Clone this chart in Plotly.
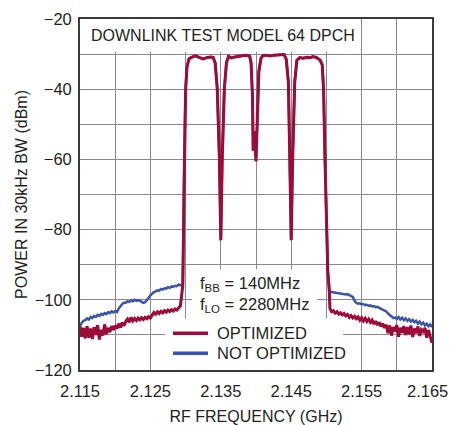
import plotly.graph_objects as go

# ---------------- data ----------------
# left skirt sweep points (GHz)
left_f = [2.11500, 2.11525, 2.11550, 2.11575, 2.11600, 2.11625, 2.11650, 2.11675, 2.11700, 2.11725,
          2.11750, 2.11775, 2.11800, 2.11825, 2.11850, 2.11875, 2.11900, 2.11925, 2.11950, 2.11975,
          2.12000, 2.12025, 2.12050, 2.12075, 2.12100, 2.12125, 2.12150, 2.12175, 2.12200, 2.12225,
          2.12250, 2.12275, 2.12300, 2.12325, 2.12350, 2.12375, 2.12400, 2.12425, 2.12450, 2.12475,
          2.12500, 2.12525, 2.12550, 2.12575, 2.12600, 2.12625, 2.12650, 2.12675, 2.12700, 2.12725,
          2.12750, 2.12775, 2.12800, 2.12825, 2.12850, 2.12875, 2.12900, 2.12925]
red_left = [-107.5, -110.5, -108.0, -111.0, -107.5, -110.8, -108.2, -111.2, -107.8, -110.0,
            -107.2, -111.3, -108.5, -110.2, -107.0, -109.8, -108.0, -109.2, -107.5, -108.6,
            -107.3, -108.2, -106.8, -107.9, -106.5, -107.4, -106.2, -105.5, -106.4, -105.0,
            -106.0, -105.3, -105.9, -105.2, -105.7, -105.1, -105.6, -105.0, -105.4, -104.8,
            -105.2, -104.3, -103.6, -104.1, -103.4, -103.9, -103.3, -103.7, -103.1, -103.5,
            -102.9, -103.3, -102.8, -103.2, -102.6, -102.9, -102.3, -101.8]
blue_left = [-107.5, -106.5, -106.0, -105.8, -105.3, -105.6, -104.9, -105.2, -104.6, -104.9,
             -104.3, -104.6, -104.0, -104.3, -103.8, -104.1, -103.5, -103.8, -103.3, -103.6,
             -103.2, -103.5, -102.5, -101.8, -101.2, -100.8, -100.9, -100.4, -100.6, -100.2,
             -100.4, -100.0, -100.3, -100.1, -100.2, -100.6, -100.9, -100.7, -100.2, -99.4,
             -98.7, -98.1, -97.8, -97.6, -97.3, -97.4, -96.9, -97.1, -96.7, -96.8,
             -96.4, -96.6, -96.2, -96.3, -96.0, -96.1, -95.7, -95.8]

# in-band part (four carriers) - identical for both traces
band_f = [2.1296, 2.1298, 2.1300, 2.1302, 2.1305, 2.1310, 2.1314, 2.1320, 2.1325, 2.1330,
          2.1335, 2.1339, 2.1342, 2.1345, 2.1348, 2.1350, 2.1352, 2.1355, 2.1358, 2.1361,
          2.1365, 2.1370, 2.1375, 2.1380, 2.1384, 2.1388, 2.1391, 2.1393, 2.1395, 2.1396,
          2.1398, 2.1400, 2.1402, 2.1404, 2.1407, 2.1410, 2.1415, 2.1420, 2.1425, 2.1430,
          2.1435, 2.1440, 2.1443, 2.1446, 2.1448, 2.1450, 2.1452, 2.1455, 2.1458, 2.1462,
          2.1467, 2.1472, 2.1477, 2.1481, 2.1486, 2.1491, 2.1494, 2.1496, 2.1498, 2.1500,
          2.1502, 2.1504]
band_p = [-96.0, -60.0, -40.0, -33.5, -31.3, -30.8, -30.5, -31.0, -31.4, -31.0,
          -30.8, -30.9, -32.5, -40.0, -60.0, -83.0, -60.0, -40.0, -32.5, -30.6,
          -31.1, -30.8, -30.6, -30.5, -30.3, -30.4, -30.6, -32.5, -42.0, -57.5,
          -52.0, -60.5, -45.0, -35.0, -31.2, -30.4, -30.3, -30.5, -30.3, -30.3,
          -30.2, -30.1, -31.5, -38.0, -60.0, -83.0, -60.0, -38.0, -31.8, -31.0,
          -31.2, -30.9, -31.0, -30.7, -31.0, -31.7, -33.0, -40.0, -60.0, -80.0,
          -92.0, -97.0]

# right skirt sweep points (GHz)
right_f = [2.15050, 2.15075, 2.15100, 2.15125, 2.15150, 2.15175, 2.15200, 2.15225, 2.15250, 2.15275,
           2.15300, 2.15325, 2.15350, 2.15375, 2.15400, 2.15425, 2.15450, 2.15475, 2.15500, 2.15525,
           2.15550, 2.15575, 2.15600, 2.15625, 2.15650, 2.15675, 2.15700, 2.15725, 2.15750, 2.15775,
           2.15800, 2.15825, 2.15850, 2.15875, 2.15900, 2.15925, 2.15950, 2.15975, 2.16000, 2.16025,
           2.16050, 2.16075, 2.16100, 2.16125, 2.16150, 2.16175, 2.16200, 2.16225, 2.16250, 2.16275,
           2.16300, 2.16325, 2.16350, 2.16375, 2.16400, 2.16425, 2.16450, 2.16475, 2.16500]
red_right = [-102.5, -103.4, -103.1, -103.8, -103.4, -104.1, -103.7, -104.3, -103.9, -104.6,
             -104.2, -105.0, -104.5, -105.2, -104.7, -105.4, -104.9, -105.8, -105.1, -106.0,
             -105.3, -106.2, -105.5, -106.4, -105.8, -106.9, -106.1, -107.2, -106.4, -107.6,
             -106.8, -108.0, -107.1, -109.5, -107.3, -110.2, -107.8, -109.0, -107.2, -110.5,
             -108.0, -109.4, -107.5, -110.0, -107.8, -109.8, -107.3, -110.6, -108.2, -109.5,
             -107.6, -110.3, -108.5, -109.0, -108.0, -110.8, -108.6, -110.5, -112.3]
blue_right = [-97.6, -97.8, -97.9, -98.0, -98.1, -98.0, -98.3, -98.2, -98.4, -98.5,
              -98.4, -98.7, -98.8, -99.2, -100.3, -100.9, -101.1, -101.0, -101.3, -101.2,
              -101.5, -101.4, -101.7, -101.6, -101.9, -101.8, -102.1, -102.0, -102.3, -102.5,
              -102.7, -103.0, -103.3, -103.9, -104.4, -104.8, -105.2, -105.0, -105.5, -104.9,
              -105.6, -105.1, -105.8, -105.3, -106.0, -105.5, -106.2, -105.7, -106.4, -106.0,
              -106.8, -106.2, -107.0, -106.5, -107.3, -106.8, -107.5, -107.0, -107.8]

# x tick labels (the last one is placed flush with the right edge, as in the reference)
x_tickvals = [2.115, 2.125, 2.135, 2.145, 2.155]
x_ticktext = ["2.115", "2.125", "2.135", "2.145", "2.155"]
x_last_tick = "2.165"
x_gridvals = [2.115, 2.120, 2.125, 2.130, 2.135, 2.140, 2.145, 2.150, 2.155, 2.160, 2.165]
y_tickvals = [-120, -100, -80, -60, -40, -20]
y_ticktext = ["\u2212120", "\u2212100", "\u221280", "\u221260", "\u221240", "\u221220"]
y_gridvals = [-120, -110, -100, -90, -80, -70, -60, -50, -40, -30, -20]

# ---------------- figure ----------------
RED = "#9E0B38"
BLUE = "#3A55A9"
FONT = "Liberation Sans, Arial, sans-serif"
TXT = "#231F20"
GRID = "#8a8a8a"
TICK_SIZE = 16.5

fig = go.Figure()
fig.add_trace(go.Scatter(x=left_f + band_f + right_f, y=blue_left + band_p + blue_right,
                         mode="lines", line=dict(color=BLUE, width=2.5), name="NOT OPTIMIZED",
                         showlegend=False))
fig.add_trace(go.Scatter(x=left_f + band_f + right_f, y=red_left + band_p + red_right,
                         mode="lines", line=dict(color=RED, width=3), name="OPTIMIZED",
                         showlegend=False))

shapes = [
    # white label boxes (between grid and traces)
    dict(type="rect", xref="x", yref="y", x0=2.115, x1=2.15485, y0=-29.3, y1=-20,
         fillcolor="white", line=dict(width=0), layer="between"),
    dict(type="rect", xref="x", yref="y", x0=2.13091, x1=2.14866, y0=-105.3, y1=-91.3,
         fillcolor="white", line=dict(width=0), layer="between"),
    dict(type="rect", xref="x", yref="y", x0=2.12707, x1=2.15236, y0=-120, y1=-105.3,
         fillcolor="white", line=dict(width=0), layer="between"),
    # legend swatches
    dict(type="line", xref="x", yref="y", x0=2.12821, x1=2.13318, y0=-109.5, y1=-109.5,
         line=dict(color=RED, width=3.5), layer="above"),
    dict(type="line", xref="x", yref="y", x0=2.12821, x1=2.13318, y0=-115.2, y1=-115.2,
         line=dict(color=BLUE, width=3.5), layer="above"),
]

AF = dict(size=16.5, color=TXT, family=FONT)
annotations = [
    dict(text="DOWNLINK TEST MODEL 64 DPCH", xref="x", yref="y", x=2.11628, y=-24.8,
         xanchor="left", yanchor="middle", showarrow=False, font=dict(size=16, color=TXT, family=FONT)),
    dict(text="f<sub>BB</sub> = 140MHz", xref="x", yref="y", x=2.13176, y=-95.6,
         xanchor="left", yanchor="middle", showarrow=False, font=AF),
    dict(text="f<sub>LO</sub> = 2280MHz", xref="x", yref="y", x=2.13176, y=-101.4,
         xanchor="left", yanchor="middle", showarrow=False, font=AF),
    dict(text="OPTIMIZED", xref="x", yref="y", x=2.13420, y=-109.5,
         xanchor="left", yanchor="middle", showarrow=False, font=AF),
    dict(text="NOT OPTIMIZED", xref="x", yref="y", x=2.13420, y=-115.2,
         xanchor="left", yanchor="middle", showarrow=False, font=AF),
    # last x tick label, right-aligned to the picture edge
    dict(text=x_last_tick, xref="paper", yref="paper", x=1.0511, y=-0.0595,
         xanchor="right", yanchor="middle", showarrow=False,
         font=dict(size=TICK_SIZE, color=TXT, family=FONT)),
]

fig.update_layout(
    width=451, height=425,
    margin=dict(l=80, r=19, t=19, b=55, autoexpand=False),
    paper_bgcolor="white", plot_bgcolor="white",
    font=dict(family=FONT, size=17, color=TXT),
    shapes=shapes, annotations=annotations,
)
fig.update_xaxes(range=[2.115, 2.165], tickvals=x_tickvals, ticktext=x_ticktext,
                 showgrid=True, gridcolor=GRID, gridwidth=1.3, zeroline=False,
                 minor=dict(tickvals=x_gridvals, showgrid=True, gridcolor=GRID, gridwidth=1.3, ticks=""),
                 showline=True, linecolor="#3a3a3a", linewidth=1.8, mirror=True, automargin=False,
                 ticks="", ticklabelstandoff=5, ticklabeloverflow="allow",
                 tickfont=dict(size=TICK_SIZE, family=FONT, color=TXT),
                 title=dict(text="RF FREQUENCY (GHz)", font=dict(size=16, family=FONT, color=TXT)))
fig.update_yaxes(range=[-120, -20], tickvals=y_tickvals, ticktext=y_ticktext,
                 showgrid=True, gridcolor=GRID, gridwidth=1.3, zeroline=False,
                 minor=dict(tickvals=y_gridvals, showgrid=True, gridcolor=GRID, gridwidth=1.3, ticks=""),
                 showline=True, linecolor="#3a3a3a", linewidth=1.8, mirror=True, automargin=False,
                 ticks="", ticklabelstandoff=3, ticklabeloverflow="allow",
                 tickfont=dict(size=TICK_SIZE, family=FONT, color=TXT),
                 title=dict(text="POWER IN 30kHz BW (dBm)", font=dict(size=16, family=FONT, color=TXT),
                            standoff=3))

fig.write_html("out.html", config={"displayModeBar": False},
               post_script="document.body.style.margin='0';")
